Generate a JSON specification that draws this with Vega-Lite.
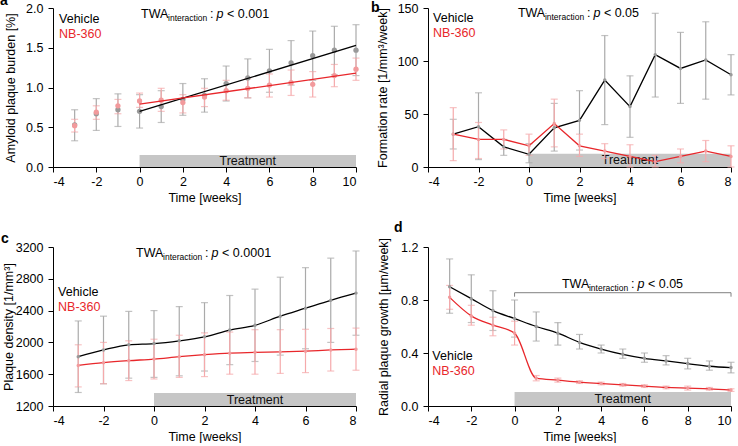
{
  "$schema": "https://vega.github.io/schema/vega-lite/v6.json",
  "padding": {"left": 0, "top": -6, "right": 0, "bottom": 0},
  "columns": 2,
  "bounds": "flush",
  "spacing": {"row": 80, "column": 72},
  "config": {
    "font": "Liberation Sans",
    "view": {"stroke": null},
    "axis": {"grid": false, "domainColor": "#000000", "tickColor": "#000000", "labelColor": "#000000", "titleColor": "#000000", "labelFontSize": 12.5, "titleFontSize": 12.5, "titleFontWeight": "normal", "tickSize": 5, "domainWidth": 1, "tickWidth": 1},
    "axisY": {"titlePadding": 8, "labelPadding": 5},
    "axisX": {"titlePadding": 4, "labelPadding": 3},
    "title": {"fontSize": 14, "fontWeight": "bold", "anchor": "start", "frame": "group", "baseline": "alphabetic", "offset": 0, "color": "#000000"}
  },
  "datasets": {
    "a": [
      {"group": "Vehicle", "week": -3, "mean": 0.53, "lo": 0.33, "hi": 0.72},
      {"group": "Vehicle", "week": -2, "mean": 0.67, "lo": 0.46, "hi": 0.86},
      {"group": "Vehicle", "week": -1, "mean": 0.72, "lo": 0.51, "hi": 0.92},
      {"group": "Vehicle", "week": 0, "mean": 0.70, "lo": 0.49, "hi": 0.91},
      {"group": "Vehicle", "week": 1, "mean": 0.76, "lo": 0.56, "hi": 0.96},
      {"group": "Vehicle", "week": 2, "mean": 0.85, "lo": 0.65, "hi": 1.05},
      {"group": "Vehicle", "week": 3, "mean": 0.90, "lo": 0.69, "hi": 1.11},
      {"group": "Vehicle", "week": 4, "mean": 1.05, "lo": 0.83, "hi": 1.27},
      {"group": "Vehicle", "week": 5, "mean": 1.12, "lo": 0.87, "hi": 1.36},
      {"group": "Vehicle", "week": 6, "mean": 1.21, "lo": 0.94, "hi": 1.48},
      {"group": "Vehicle", "week": 7, "mean": 1.31, "lo": 1.03, "hi": 1.59},
      {"group": "Vehicle", "week": 8, "mean": 1.40, "lo": 1.09, "hi": 1.71},
      {"group": "Vehicle", "week": 9, "mean": 1.47, "lo": 1.16, "hi": 1.77},
      {"group": "Vehicle", "week": 10, "mean": 1.47, "lo": 1.15, "hi": 1.79},
      {"group": "NB-360", "week": -3, "mean": 0.52, "lo": 0.44, "hi": 0.60},
      {"group": "NB-360", "week": -2, "mean": 0.69, "lo": 0.60, "hi": 0.77},
      {"group": "NB-360", "week": -1, "mean": 0.77, "lo": 0.67, "hi": 0.85},
      {"group": "NB-360", "week": 0, "mean": 0.83, "lo": 0.75, "hi": 0.93},
      {"group": "NB-360", "week": 1, "mean": 0.84, "lo": 0.70, "hi": 0.99},
      {"group": "NB-360", "week": 2, "mean": 0.81, "lo": 0.68, "hi": 0.91},
      {"group": "NB-360", "week": 3, "mean": 0.88, "lo": 0.76, "hi": 0.99},
      {"group": "NB-360", "week": 4, "mean": 0.96, "lo": 0.84, "hi": 1.09},
      {"group": "NB-360", "week": 5, "mean": 0.99, "lo": 0.87, "hi": 1.11},
      {"group": "NB-360", "week": 6, "mean": 1.03, "lo": 0.88, "hi": 1.17},
      {"group": "NB-360", "week": 7, "mean": 1.06, "lo": 0.90, "hi": 1.22},
      {"group": "NB-360", "week": 8, "mean": 1.04, "lo": 0.88, "hi": 1.20},
      {"group": "NB-360", "week": 9, "mean": 1.15, "lo": 1.01, "hi": 1.29},
      {"group": "NB-360", "week": 10, "mean": 1.23, "lo": 1.09, "hi": 1.37}
    ],
    "a_fit": [
      {"group": "Vehicle", "week": 0, "mean": 0.70},
      {"group": "Vehicle", "week": 10, "mean": 1.53},
      {"group": "NB-360", "week": 0, "mean": 0.79},
      {"group": "NB-360", "week": 10, "mean": 1.18}
    ],
    "b": [
      {"group": "Vehicle", "week": -3, "mean": 31, "lo": 17, "hi": 45},
      {"group": "Vehicle", "week": -2, "mean": 38, "lo": 7, "hi": 70},
      {"group": "Vehicle", "week": -1, "mean": 19, "lo": 11, "hi": 26},
      {"group": "Vehicle", "week": 0, "mean": 12, "lo": 4, "hi": 22},
      {"group": "Vehicle", "week": 1, "mean": 37, "lo": 15, "hi": 60},
      {"group": "Vehicle", "week": 2, "mean": 44, "lo": 16, "hi": 72},
      {"group": "Vehicle", "week": 3, "mean": 82, "lo": 40, "hi": 124},
      {"group": "Vehicle", "week": 4, "mean": 57, "lo": 28, "hi": 86},
      {"group": "Vehicle", "week": 5, "mean": 106, "lo": 66, "hi": 145},
      {"group": "Vehicle", "week": 6, "mean": 93, "lo": 60, "hi": 127},
      {"group": "Vehicle", "week": 7, "mean": 101, "lo": 64, "hi": 137},
      {"group": "Vehicle", "week": 8, "mean": 87, "lo": 68, "hi": 106},
      {"group": "NB-360", "week": -3, "mean": 31, "lo": 6, "hi": 56},
      {"group": "NB-360", "week": -2, "mean": 26, "lo": 8, "hi": 42},
      {"group": "NB-360", "week": -1, "mean": 26, "lo": 17, "hi": 35},
      {"group": "NB-360", "week": 0, "mean": 20, "lo": 11, "hi": 31},
      {"group": "NB-360", "week": 1, "mean": 41, "lo": 19, "hi": 64},
      {"group": "NB-360", "week": 2, "mean": 20, "lo": 10, "hi": 31},
      {"group": "NB-360", "week": 3, "mean": 15, "lo": 8, "hi": 22},
      {"group": "NB-360", "week": 4, "mean": 10, "lo": 0, "hi": 21},
      {"group": "NB-360", "week": 5, "mean": 5, "lo": 0, "hi": 11},
      {"group": "NB-360", "week": 6, "mean": 10, "lo": 4, "hi": 17},
      {"group": "NB-360", "week": 7, "mean": 15, "lo": 5, "hi": 25},
      {"group": "NB-360", "week": 8, "mean": 10, "lo": 0, "hi": 20}
    ],
    "c": [
      {"group": "Vehicle", "week": -3, "mean": 1820, "lo": 1370, "hi": 2270},
      {"group": "Vehicle", "week": -2, "mean": 1905, "lo": 1480, "hi": 2330},
      {"group": "Vehicle", "week": -1, "mean": 1970, "lo": 1550, "hi": 2390},
      {"group": "Vehicle", "week": 0, "mean": 1985, "lo": 1560, "hi": 2400},
      {"group": "Vehicle", "week": 1, "mean": 2020, "lo": 1580, "hi": 2450},
      {"group": "Vehicle", "week": 2, "mean": 2070, "lo": 1640, "hi": 2500},
      {"group": "Vehicle", "week": 3, "mean": 2155, "lo": 1720, "hi": 2590},
      {"group": "Vehicle", "week": 4, "mean": 2215, "lo": 1760, "hi": 2670},
      {"group": "Vehicle", "week": 5, "mean": 2330, "lo": 1840, "hi": 2820},
      {"group": "Vehicle", "week": 6, "mean": 2430, "lo": 1920, "hi": 2940},
      {"group": "Vehicle", "week": 7, "mean": 2530, "lo": 2000, "hi": 3060},
      {"group": "Vehicle", "week": 8, "mean": 2620, "lo": 2090, "hi": 3150},
      {"group": "NB-360", "week": -3, "mean": 1710, "lo": 1440, "hi": 1970},
      {"group": "NB-360", "week": -2, "mean": 1745, "lo": 1480, "hi": 2000},
      {"group": "NB-360", "week": -1, "mean": 1770, "lo": 1520, "hi": 2020},
      {"group": "NB-360", "week": 0, "mean": 1790, "lo": 1540, "hi": 2040},
      {"group": "NB-360", "week": 1, "mean": 1820, "lo": 1560, "hi": 2090},
      {"group": "NB-360", "week": 2, "mean": 1845, "lo": 1570, "hi": 2120},
      {"group": "NB-360", "week": 3, "mean": 1865, "lo": 1600, "hi": 2130},
      {"group": "NB-360", "week": 4, "mean": 1875, "lo": 1600, "hi": 2160},
      {"group": "NB-360", "week": 5, "mean": 1880, "lo": 1610, "hi": 2160},
      {"group": "NB-360", "week": 6, "mean": 1890, "lo": 1620, "hi": 2165},
      {"group": "NB-360", "week": 7, "mean": 1905, "lo": 1640, "hi": 2175},
      {"group": "NB-360", "week": 8, "mean": 1915, "lo": 1650, "hi": 2180}
    ],
    "d": [
      {"group": "Vehicle", "week": -3, "mean": 0.90, "lo": 0.70, "hi": 1.11},
      {"group": "Vehicle", "week": -2, "mean": 0.81, "lo": 0.63, "hi": 0.99},
      {"group": "Vehicle", "week": -1, "mean": 0.72, "lo": 0.57, "hi": 0.87},
      {"group": "Vehicle", "week": 0, "mean": 0.66, "lo": 0.52, "hi": 0.80},
      {"group": "Vehicle", "week": 1, "mean": 0.60, "lo": 0.49, "hi": 0.71},
      {"group": "Vehicle", "week": 2, "mean": 0.55, "lo": 0.46, "hi": 0.63},
      {"group": "Vehicle", "week": 3, "mean": 0.48, "lo": 0.43, "hi": 0.54},
      {"group": "Vehicle", "week": 4, "mean": 0.43, "lo": 0.40, "hi": 0.46},
      {"group": "Vehicle", "week": 5, "mean": 0.39, "lo": 0.36, "hi": 0.43},
      {"group": "Vehicle", "week": 6, "mean": 0.36, "lo": 0.33, "hi": 0.40},
      {"group": "Vehicle", "week": 7, "mean": 0.34, "lo": 0.31, "hi": 0.38},
      {"group": "Vehicle", "week": 8, "mean": 0.32, "lo": 0.28, "hi": 0.36},
      {"group": "Vehicle", "week": 9, "mean": 0.30, "lo": 0.27, "hi": 0.34},
      {"group": "Vehicle", "week": 10, "mean": 0.29, "lo": 0.25, "hi": 0.33},
      {"group": "NB-360", "week": -3, "mean": 0.82, "lo": 0.73, "hi": 0.91},
      {"group": "NB-360", "week": -2, "mean": 0.68, "lo": 0.61, "hi": 0.76},
      {"group": "NB-360", "week": -1, "mean": 0.61, "lo": 0.53, "hi": 0.67},
      {"group": "NB-360", "week": 0, "mean": 0.55, "lo": 0.46, "hi": 0.64},
      {"group": "NB-360", "week": 1, "mean": 0.21, "lo": 0.19, "hi": 0.23},
      {"group": "NB-360", "week": 2, "mean": 0.195, "lo": 0.18, "hi": 0.21},
      {"group": "NB-360", "week": 3, "mean": 0.18, "lo": 0.17, "hi": 0.19},
      {"group": "NB-360", "week": 4, "mean": 0.17, "lo": 0.16, "hi": 0.18},
      {"group": "NB-360", "week": 5, "mean": 0.16, "lo": 0.15, "hi": 0.17},
      {"group": "NB-360", "week": 6, "mean": 0.15, "lo": 0.14, "hi": 0.16},
      {"group": "NB-360", "week": 7, "mean": 0.14, "lo": 0.13, "hi": 0.15},
      {"group": "NB-360", "week": 8, "mean": 0.135, "lo": 0.12, "hi": 0.15},
      {"group": "NB-360", "week": 9, "mean": 0.13, "lo": 0.12, "hi": 0.14},
      {"group": "NB-360", "week": 10, "mean": 0.12, "lo": 0.11, "hi": 0.13}
    ],
    "treat_a": [{"start": 0, "end": 10, "label": "Treatment"}],
    "treat_b": [{"start": 0, "end": 8, "label": "Treatment"}],
    "notes_a": [
      {"group": "Vehicle", "x": -3.72, "y": 1.81},
      {"group": "NB-360", "x": -3.72, "y": 1.62}
    ],
    "notes_b": [
      {"group": "Vehicle", "x": -3.8, "y": 136.8},
      {"group": "NB-360", "x": -3.8, "y": 122.6}
    ],
    "notes_c": [
      {"group": "Vehicle", "x": -3.8, "y": 2580},
      {"group": "NB-360", "x": -3.8, "y": 2390}
    ],
    "notes_d": [
      {"group": "Vehicle", "x": -3.8, "y": 0.347},
      {"group": "NB-360", "x": -3.8, "y": 0.234}
    ],
    "twa_a": [{"x": 0.07, "y": 1.874, "main": "TWA", "sub": "interaction", "p": "p", "rest": "< 0.001"}],
    "twa_b": [{"x": -0.44, "y": 141.5, "main": "TWA", "sub": "interaction", "p": "p", "rest": "< 0.05"}],
    "twa_c": [{"x": -0.71, "y": 3073, "main": "TWA", "sub": "interaction", "p": "p", "rest": "< 0.0001"}],
    "twa_d": [{"x": 2.19, "y": 0.89, "main": "TWA", "sub": "interaction", "p": "p", "rest": "< 0.05"}],
    "bracket_d": [
      {"o": 1, "x": 0, "y": 0.825},
      {"o": 2, "x": 0, "y": 0.855},
      {"o": 3, "x": 10, "y": 0.855},
      {"o": 4, "x": 10, "y": 0.825}
    ]
  },
  "concat": [
    {
      "width": 303, "height": 159,
      "title": {"text": "a", "dx": -53, "dy": 10},
      "layer": [
        {"data": {"name": "treat_a"}, "mark": {"type": "rect", "color": "#c6c6c6"},
         "encoding": {
           "x": {"field": "start", "type": "quantitative", "title": "Time [weeks]", "scale": {"domain": [-4, 10], "nice": false}, "axis": {"values": [-4, -2, 0, 2, 4, 6, 8, 10], "tickCount": 20, "labelExpr": "'' + datum.value", "labelOverlap": false}},
           "x2": {"field": "end"},
           "y": {"datum": 0, "type": "quantitative", "title": "Amyloid plaque burden [%]", "scale": {"domain": [0, 2], "nice": false}, "axis": {"values": [0, 0.5, 1, 1.5, 2], "tickCount": 20, "format": ".1f", "titlePadding": 8, "labelOverlap": false}},
           "y2": {"datum": 0.15}}},
        {"data": {"name": "treat_a"}, "mark": {"type": "text", "fontSize": 12.5, "baseline": "middle", "color": "#111111"},
         "encoding": {"x": {"datum": 5, "type": "quantitative", "title": "Time [weeks]"}, "y": {"datum": 0.075, "type": "quantitative", "title": "Amyloid plaque burden [%]"}, "text": {"field": "label"}}},
        {"data": {"name": "a"}, "mark": {"type": "errorbar", "ticks": {"size": 7}, "thickness": 1.2},
         "encoding": {"x": {"field": "week", "type": "quantitative", "title": "Time [weeks]"}, "y": {"field": "lo", "type": "quantitative", "title": "Amyloid plaque burden [%]"}, "y2": {"field": "hi"},
           "color": {"field": "group", "type": "nominal", "scale": {"domain": ["Vehicle", "NB-360"], "range": ["#aaaaaa", "#f5a9ab"]}, "legend": null}}},
        {"data": {"name": "a"}, "mark": {"type": "circle", "size": 28, "opacity": 1},
         "encoding": {"x": {"field": "week", "type": "quantitative", "title": "Time [weeks]"}, "y": {"field": "mean", "type": "quantitative", "title": "Amyloid plaque burden [%]"},
           "fill": {"field": "group", "type": "nominal", "scale": {"domain": ["Vehicle", "NB-360"], "range": ["#999999", "#f29a9c"]}, "legend": null}}},
        {"data": {"name": "a_fit"}, "mark": {"type": "line", "strokeWidth": 1.3},
         "encoding": {"x": {"field": "week", "type": "quantitative", "title": "Time [weeks]"}, "y": {"field": "mean", "type": "quantitative", "title": "Amyloid plaque burden [%]"},
           "stroke": {"field": "group", "type": "nominal", "scale": {"domain": ["Vehicle", "NB-360"], "range": ["#000000", "#e8272b"]}, "legend": null}}},
        {"data": {"name": "notes_a"}, "transform": [{"filter": "datum.group == 'Vehicle'"}], "mark": {"type": "text", "fontSize": 12.5, "align": "left", "baseline": "alphabetic", "color": "#000000"},
         "encoding": {"x": {"field": "x", "type": "quantitative", "title": "Time [weeks]"}, "y": {"field": "y", "type": "quantitative", "title": "Amyloid plaque burden [%]"}, "text": {"field": "group"}}},
        {"data": {"name": "notes_a"}, "transform": [{"filter": "datum.group == 'NB-360'"}], "mark": {"type": "text", "fontSize": 12.5, "align": "left", "baseline": "alphabetic", "color": "#e8272b"},
         "encoding": {"x": {"field": "x", "type": "quantitative", "title": "Time [weeks]"}, "y": {"field": "y", "type": "quantitative", "title": "Amyloid plaque burden [%]"}, "text": {"field": "group"}}},
        {"data": {"name": "twa_a"}, "mark": {"type": "text", "fontSize": 12.5, "align": "left", "baseline": "alphabetic", "color": "#000000"},
         "encoding": {"x": {"field": "x", "type": "quantitative", "title": "Time [weeks]"}, "y": {"field": "y", "type": "quantitative", "title": "Amyloid plaque burden [%]"}, "text": {"field": "main"}}},
        {"data": {"name": "twa_a"}, "mark": {"type": "text", "fontSize": 8.5, "align": "left", "baseline": "alphabetic", "dx": 27, "dy": 2.5, "color": "#000000"},
         "encoding": {"x": {"field": "x", "type": "quantitative", "title": "Time [weeks]"}, "y": {"field": "y", "type": "quantitative", "title": "Amyloid plaque burden [%]"}, "text": {"field": "sub"}}},
        {"data": {"name": "twa_a"}, "mark": {"type": "text", "fontSize": 12.5, "align": "left", "baseline": "alphabetic", "dx": 69, "color": "#000000"},
         "encoding": {"x": {"field": "x", "type": "quantitative", "title": "Time [weeks]"}, "y": {"field": "y", "type": "quantitative", "title": "Amyloid plaque burden [%]"}, "text": {"value": ":"}}},
        {"data": {"name": "twa_a"}, "mark": {"type": "text", "fontSize": 12.5, "fontStyle": "italic", "align": "left", "baseline": "alphabetic", "dx": 75.5, "color": "#000000"},
         "encoding": {"x": {"field": "x", "type": "quantitative", "title": "Time [weeks]"}, "y": {"field": "y", "type": "quantitative", "title": "Amyloid plaque burden [%]"}, "text": {"field": "p"}}},
        {"data": {"name": "twa_a"}, "mark": {"type": "text", "fontSize": 12.5, "align": "left", "baseline": "alphabetic", "dx": 86, "color": "#000000"},
         "encoding": {"x": {"field": "x", "type": "quantitative", "title": "Time [weeks]"}, "y": {"field": "y", "type": "quantitative", "title": "Amyloid plaque burden [%]"}, "text": {"field": "rest"}}}
      ]
    },
    {
      "width": 303, "height": 159,
      "title": {"text": "b", "dx": -57, "dy": 17},
      "layer": [
        {"data": {"name": "treat_b"}, "mark": {"type": "rect", "color": "#c6c6c6"},
         "encoding": {
           "x": {"field": "start", "type": "quantitative", "title": "Time [weeks]", "scale": {"domain": [-4, 8], "nice": false}, "axis": {"values": [-4, -2, 0, 2, 4, 6, 8], "tickCount": 20, "labelExpr": "'' + datum.value", "labelOverlap": false}},
           "x2": {"field": "end"},
           "y": {"datum": 0, "type": "quantitative", "title": "Formation rate [1/mm³/week]", "scale": {"domain": [0, 150], "nice": false}, "axis": {"values": [0, 50, 100, 150], "tickCount": 20, "format": "d", "titlePadding": 8, "labelOverlap": false}},
           "y2": {"datum": 12.5}}},
        {"data": {"name": "treat_b"}, "mark": {"type": "text", "fontSize": 12.5, "baseline": "middle", "color": "#111111"},
         "encoding": {"x": {"datum": 4, "type": "quantitative", "title": "Time [weeks]"}, "y": {"datum": 6.2, "type": "quantitative", "title": "Formation rate [1/mm³/week]"}, "text": {"field": "label"}}},
        {"data": {"name": "b"}, "mark": {"type": "errorbar", "ticks": {"size": 7}, "thickness": 1.2},
         "encoding": {"x": {"field": "week", "type": "quantitative", "title": "Time [weeks]"}, "y": {"field": "lo", "type": "quantitative", "title": "Formation rate [1/mm³/week]"}, "y2": {"field": "hi"},
           "color": {"field": "group", "type": "nominal", "scale": {"domain": ["Vehicle", "NB-360"], "range": ["#aaaaaa", "#f5a9ab"]}, "legend": null}}},
        {"data": {"name": "b"}, "mark": {"type": "line", "strokeWidth": 1.3},
         "encoding": {"x": {"field": "week", "type": "quantitative", "title": "Time [weeks]"}, "y": {"field": "mean", "type": "quantitative", "title": "Formation rate [1/mm³/week]"},
           "stroke": {"field": "group", "type": "nominal", "scale": {"domain": ["Vehicle", "NB-360"], "range": ["#000000", "#e8272b"]}, "legend": null}}},
        {"data": {"name": "b"}, "mark": {"type": "circle", "size": 12, "opacity": 1},
         "encoding": {"x": {"field": "week", "type": "quantitative", "title": "Time [weeks]"}, "y": {"field": "mean", "type": "quantitative", "title": "Formation rate [1/mm³/week]"},
           "fill": {"field": "group", "type": "nominal", "scale": {"domain": ["Vehicle", "NB-360"], "range": ["#777777", "#f07a7c"]}, "legend": null}}},
        {"data": {"name": "notes_b"}, "transform": [{"filter": "datum.group == 'Vehicle'"}], "mark": {"type": "text", "fontSize": 12.5, "align": "left", "baseline": "alphabetic", "color": "#000000"},
         "encoding": {"x": {"field": "x", "type": "quantitative", "title": "Time [weeks]"}, "y": {"field": "y", "type": "quantitative", "title": "Formation rate [1/mm³/week]"}, "text": {"field": "group"}}},
        {"data": {"name": "notes_b"}, "transform": [{"filter": "datum.group == 'NB-360'"}], "mark": {"type": "text", "fontSize": 12.5, "align": "left", "baseline": "alphabetic", "color": "#e8272b"},
         "encoding": {"x": {"field": "x", "type": "quantitative", "title": "Time [weeks]"}, "y": {"field": "y", "type": "quantitative", "title": "Formation rate [1/mm³/week]"}, "text": {"field": "group"}}},
        {"data": {"name": "twa_b"}, "mark": {"type": "text", "fontSize": 12.5, "align": "left", "baseline": "alphabetic", "color": "#000000"},
         "encoding": {"x": {"field": "x", "type": "quantitative", "title": "Time [weeks]"}, "y": {"field": "y", "type": "quantitative", "title": "Formation rate [1/mm³/week]"}, "text": {"field": "main"}}},
        {"data": {"name": "twa_b"}, "mark": {"type": "text", "fontSize": 8.5, "align": "left", "baseline": "alphabetic", "dx": 27, "dy": 2.5, "color": "#000000"},
         "encoding": {"x": {"field": "x", "type": "quantitative", "title": "Time [weeks]"}, "y": {"field": "y", "type": "quantitative", "title": "Formation rate [1/mm³/week]"}, "text": {"field": "sub"}}},
        {"data": {"name": "twa_b"}, "mark": {"type": "text", "fontSize": 12.5, "align": "left", "baseline": "alphabetic", "dx": 69, "color": "#000000"},
         "encoding": {"x": {"field": "x", "type": "quantitative", "title": "Time [weeks]"}, "y": {"field": "y", "type": "quantitative", "title": "Formation rate [1/mm³/week]"}, "text": {"value": ":"}}},
        {"data": {"name": "twa_b"}, "mark": {"type": "text", "fontSize": 12.5, "fontStyle": "italic", "align": "left", "baseline": "alphabetic", "dx": 75.5, "color": "#000000"},
         "encoding": {"x": {"field": "x", "type": "quantitative", "title": "Time [weeks]"}, "y": {"field": "y", "type": "quantitative", "title": "Formation rate [1/mm³/week]"}, "text": {"field": "p"}}},
        {"data": {"name": "twa_b"}, "mark": {"type": "text", "fontSize": 12.5, "align": "left", "baseline": "alphabetic", "dx": 86, "color": "#000000"},
         "encoding": {"x": {"field": "x", "type": "quantitative", "title": "Time [weeks]"}, "y": {"field": "y", "type": "quantitative", "title": "Formation rate [1/mm³/week]"}, "text": {"field": "rest"}}}
      ]
    },
    {
      "width": 303, "height": 159,
      "title": {"text": "c", "dx": -52, "dy": 9},
      "layer": [
        {"data": {"name": "treat_b"}, "mark": {"type": "rect", "color": "#c6c6c6"},
         "encoding": {
           "x": {"field": "start", "type": "quantitative", "title": "Time [weeks]", "scale": {"domain": [-4, 8], "nice": false}, "axis": {"values": [-4, -2, 0, 2, 4, 6, 8], "tickCount": 20, "labelExpr": "'' + datum.value", "labelOverlap": false}},
           "x2": {"field": "end"},
           "y": {"datum": 1200, "type": "quantitative", "title": "Plaque density [1/mm³]", "scale": {"domain": [1200, 3200], "nice": false, "zero": false}, "axis": {"values": [1200, 1600, 2000, 2400, 2800, 3200], "tickCount": 20, "format": "d", "titlePadding": 0, "labelOverlap": false}},
           "y2": {"datum": 1362}}},
        {"data": {"name": "treat_b"}, "mark": {"type": "text", "fontSize": 12.5, "baseline": "middle", "color": "#111111"},
         "encoding": {"x": {"datum": 4, "type": "quantitative", "title": "Time [weeks]"}, "y": {"datum": 1281, "type": "quantitative", "title": "Plaque density [1/mm³]"}, "text": {"field": "label"}}},
        {"data": {"name": "c"}, "mark": {"type": "errorbar", "ticks": {"size": 7}, "thickness": 1.2},
         "encoding": {"x": {"field": "week", "type": "quantitative", "title": "Time [weeks]"}, "y": {"field": "lo", "type": "quantitative", "title": "Plaque density [1/mm³]"}, "y2": {"field": "hi"},
           "color": {"field": "group", "type": "nominal", "scale": {"domain": ["Vehicle", "NB-360"], "range": ["#aaaaaa", "#f5a9ab"]}, "legend": null}}},
        {"data": {"name": "c"}, "mark": {"type": "line", "strokeWidth": 1.3, "interpolate": "monotone"},
         "encoding": {"x": {"field": "week", "type": "quantitative", "title": "Time [weeks]"}, "y": {"field": "mean", "type": "quantitative", "title": "Plaque density [1/mm³]"},
           "stroke": {"field": "group", "type": "nominal", "scale": {"domain": ["Vehicle", "NB-360"], "range": ["#000000", "#e8272b"]}, "legend": null}}},
        {"data": {"name": "c"}, "mark": {"type": "circle", "size": 12, "opacity": 1},
         "encoding": {"x": {"field": "week", "type": "quantitative", "title": "Time [weeks]"}, "y": {"field": "mean", "type": "quantitative", "title": "Plaque density [1/mm³]"},
           "fill": {"field": "group", "type": "nominal", "scale": {"domain": ["Vehicle", "NB-360"], "range": ["#777777", "#f07a7c"]}, "legend": null}}},
        {"data": {"name": "notes_c"}, "transform": [{"filter": "datum.group == 'Vehicle'"}], "mark": {"type": "text", "fontSize": 12.5, "align": "left", "baseline": "alphabetic", "color": "#000000"},
         "encoding": {"x": {"field": "x", "type": "quantitative", "title": "Time [weeks]"}, "y": {"field": "y", "type": "quantitative", "title": "Plaque density [1/mm³]"}, "text": {"field": "group"}}},
        {"data": {"name": "notes_c"}, "transform": [{"filter": "datum.group == 'NB-360'"}], "mark": {"type": "text", "fontSize": 12.5, "align": "left", "baseline": "alphabetic", "color": "#e8272b"},
         "encoding": {"x": {"field": "x", "type": "quantitative", "title": "Time [weeks]"}, "y": {"field": "y", "type": "quantitative", "title": "Plaque density [1/mm³]"}, "text": {"field": "group"}}},
        {"data": {"name": "twa_c"}, "mark": {"type": "text", "fontSize": 12.5, "align": "left", "baseline": "alphabetic", "color": "#000000"},
         "encoding": {"x": {"field": "x", "type": "quantitative", "title": "Time [weeks]"}, "y": {"field": "y", "type": "quantitative", "title": "Plaque density [1/mm³]"}, "text": {"field": "main"}}},
        {"data": {"name": "twa_c"}, "mark": {"type": "text", "fontSize": 8.5, "align": "left", "baseline": "alphabetic", "dx": 27, "dy": 2.5, "color": "#000000"},
         "encoding": {"x": {"field": "x", "type": "quantitative", "title": "Time [weeks]"}, "y": {"field": "y", "type": "quantitative", "title": "Plaque density [1/mm³]"}, "text": {"field": "sub"}}},
        {"data": {"name": "twa_c"}, "mark": {"type": "text", "fontSize": 12.5, "align": "left", "baseline": "alphabetic", "dx": 69, "color": "#000000"},
         "encoding": {"x": {"field": "x", "type": "quantitative", "title": "Time [weeks]"}, "y": {"field": "y", "type": "quantitative", "title": "Plaque density [1/mm³]"}, "text": {"value": ":"}}},
        {"data": {"name": "twa_c"}, "mark": {"type": "text", "fontSize": 12.5, "fontStyle": "italic", "align": "left", "baseline": "alphabetic", "dx": 75.5, "color": "#000000"},
         "encoding": {"x": {"field": "x", "type": "quantitative", "title": "Time [weeks]"}, "y": {"field": "y", "type": "quantitative", "title": "Plaque density [1/mm³]"}, "text": {"field": "p"}}},
        {"data": {"name": "twa_c"}, "mark": {"type": "text", "fontSize": 12.5, "align": "left", "baseline": "alphabetic", "dx": 86, "color": "#000000"},
         "encoding": {"x": {"field": "x", "type": "quantitative", "title": "Time [weeks]"}, "y": {"field": "y", "type": "quantitative", "title": "Plaque density [1/mm³]"}, "text": {"field": "rest"}}}
      ]
    },
    {
      "width": 303, "height": 159,
      "title": {"text": "d", "dx": -34, "dy": 2},
      "layer": [
        {"data": {"name": "treat_a"}, "mark": {"type": "rect", "color": "#c6c6c6"},
         "encoding": {
           "x": {"field": "start", "type": "quantitative", "title": "Time [weeks]", "scale": {"domain": [-4, 10], "nice": false}, "axis": {"values": [-4, -2, 0, 2, 4, 6, 8, 10], "tickCount": 20, "labelExpr": "'' + datum.value", "labelOverlap": false}},
           "x2": {"field": "end"},
           "y": {"datum": 0, "type": "quantitative", "title": "Radial plaque growth [µm/week]", "scale": {"domain": [0, 1.2], "nice": false}, "axis": {"values": [0, 0.4, 0.8, 1.2], "tickCount": 20, "format": ".1f", "titlePadding": 10, "labelOverlap": false}},
           "y2": {"datum": 0.105}}},
        {"data": {"name": "treat_a"}, "mark": {"type": "text", "fontSize": 12.5, "baseline": "middle", "color": "#111111"},
         "encoding": {"x": {"datum": 5, "type": "quantitative", "title": "Time [weeks]"}, "y": {"datum": 0.052, "type": "quantitative", "title": "Radial plaque growth [µm/week]"}, "text": {"field": "label"}}},
        {"data": {"name": "bracket_d"}, "mark": {"type": "line", "strokeWidth": 1, "color": "#808080"},
         "encoding": {"x": {"field": "x", "type": "quantitative", "title": "Time [weeks]"}, "y": {"field": "y", "type": "quantitative", "title": "Radial plaque growth [µm/week]"}, "order": {"field": "o"}}},
        {"data": {"name": "d"}, "mark": {"type": "errorbar", "ticks": {"size": 7}, "thickness": 1.2},
         "encoding": {"x": {"field": "week", "type": "quantitative", "title": "Time [weeks]"}, "y": {"field": "lo", "type": "quantitative", "title": "Radial plaque growth [µm/week]"}, "y2": {"field": "hi"},
           "color": {"field": "group", "type": "nominal", "scale": {"domain": ["Vehicle", "NB-360"], "range": ["#aaaaaa", "#f5a9ab"]}, "legend": null}}},
        {"data": {"name": "d"}, "mark": {"type": "line", "strokeWidth": 1.3, "interpolate": "monotone"},
         "encoding": {"x": {"field": "week", "type": "quantitative", "title": "Time [weeks]"}, "y": {"field": "mean", "type": "quantitative", "title": "Radial plaque growth [µm/week]"},
           "stroke": {"field": "group", "type": "nominal", "scale": {"domain": ["Vehicle", "NB-360"], "range": ["#000000", "#e8272b"]}, "legend": null}}},
        {"data": {"name": "d"}, "mark": {"type": "circle", "size": 12, "opacity": 1},
         "encoding": {"x": {"field": "week", "type": "quantitative", "title": "Time [weeks]"}, "y": {"field": "mean", "type": "quantitative", "title": "Radial plaque growth [µm/week]"},
           "fill": {"field": "group", "type": "nominal", "scale": {"domain": ["Vehicle", "NB-360"], "range": ["#777777", "#f07a7c"]}, "legend": null}}},
        {"data": {"name": "notes_d"}, "transform": [{"filter": "datum.group == 'Vehicle'"}], "mark": {"type": "text", "fontSize": 12.5, "align": "left", "baseline": "alphabetic", "color": "#000000"},
         "encoding": {"x": {"field": "x", "type": "quantitative", "title": "Time [weeks]"}, "y": {"field": "y", "type": "quantitative", "title": "Radial plaque growth [µm/week]"}, "text": {"field": "group"}}},
        {"data": {"name": "notes_d"}, "transform": [{"filter": "datum.group == 'NB-360'"}], "mark": {"type": "text", "fontSize": 12.5, "align": "left", "baseline": "alphabetic", "color": "#e8272b"},
         "encoding": {"x": {"field": "x", "type": "quantitative", "title": "Time [weeks]"}, "y": {"field": "y", "type": "quantitative", "title": "Radial plaque growth [µm/week]"}, "text": {"field": "group"}}},
        {"data": {"name": "twa_d"}, "mark": {"type": "text", "fontSize": 12.5, "align": "left", "baseline": "alphabetic", "color": "#000000"},
         "encoding": {"x": {"field": "x", "type": "quantitative", "title": "Time [weeks]"}, "y": {"field": "y", "type": "quantitative", "title": "Radial plaque growth [µm/week]"}, "text": {"field": "main"}}},
        {"data": {"name": "twa_d"}, "mark": {"type": "text", "fontSize": 8.5, "align": "left", "baseline": "alphabetic", "dx": 27, "dy": 2.5, "color": "#000000"},
         "encoding": {"x": {"field": "x", "type": "quantitative", "title": "Time [weeks]"}, "y": {"field": "y", "type": "quantitative", "title": "Radial plaque growth [µm/week]"}, "text": {"field": "sub"}}},
        {"data": {"name": "twa_d"}, "mark": {"type": "text", "fontSize": 12.5, "align": "left", "baseline": "alphabetic", "dx": 69, "color": "#000000"},
         "encoding": {"x": {"field": "x", "type": "quantitative", "title": "Time [weeks]"}, "y": {"field": "y", "type": "quantitative", "title": "Radial plaque growth [µm/week]"}, "text": {"value": ":"}}},
        {"data": {"name": "twa_d"}, "mark": {"type": "text", "fontSize": 12.5, "fontStyle": "italic", "align": "left", "baseline": "alphabetic", "dx": 75.5, "color": "#000000"},
         "encoding": {"x": {"field": "x", "type": "quantitative", "title": "Time [weeks]"}, "y": {"field": "y", "type": "quantitative", "title": "Radial plaque growth [µm/week]"}, "text": {"field": "p"}}},
        {"data": {"name": "twa_d"}, "mark": {"type": "text", "fontSize": 12.5, "align": "left", "baseline": "alphabetic", "dx": 86, "color": "#000000"},
         "encoding": {"x": {"field": "x", "type": "quantitative", "title": "Time [weeks]"}, "y": {"field": "y", "type": "quantitative", "title": "Radial plaque growth [µm/week]"}, "text": {"field": "rest"}}}
      ]
    }
  ]
}
